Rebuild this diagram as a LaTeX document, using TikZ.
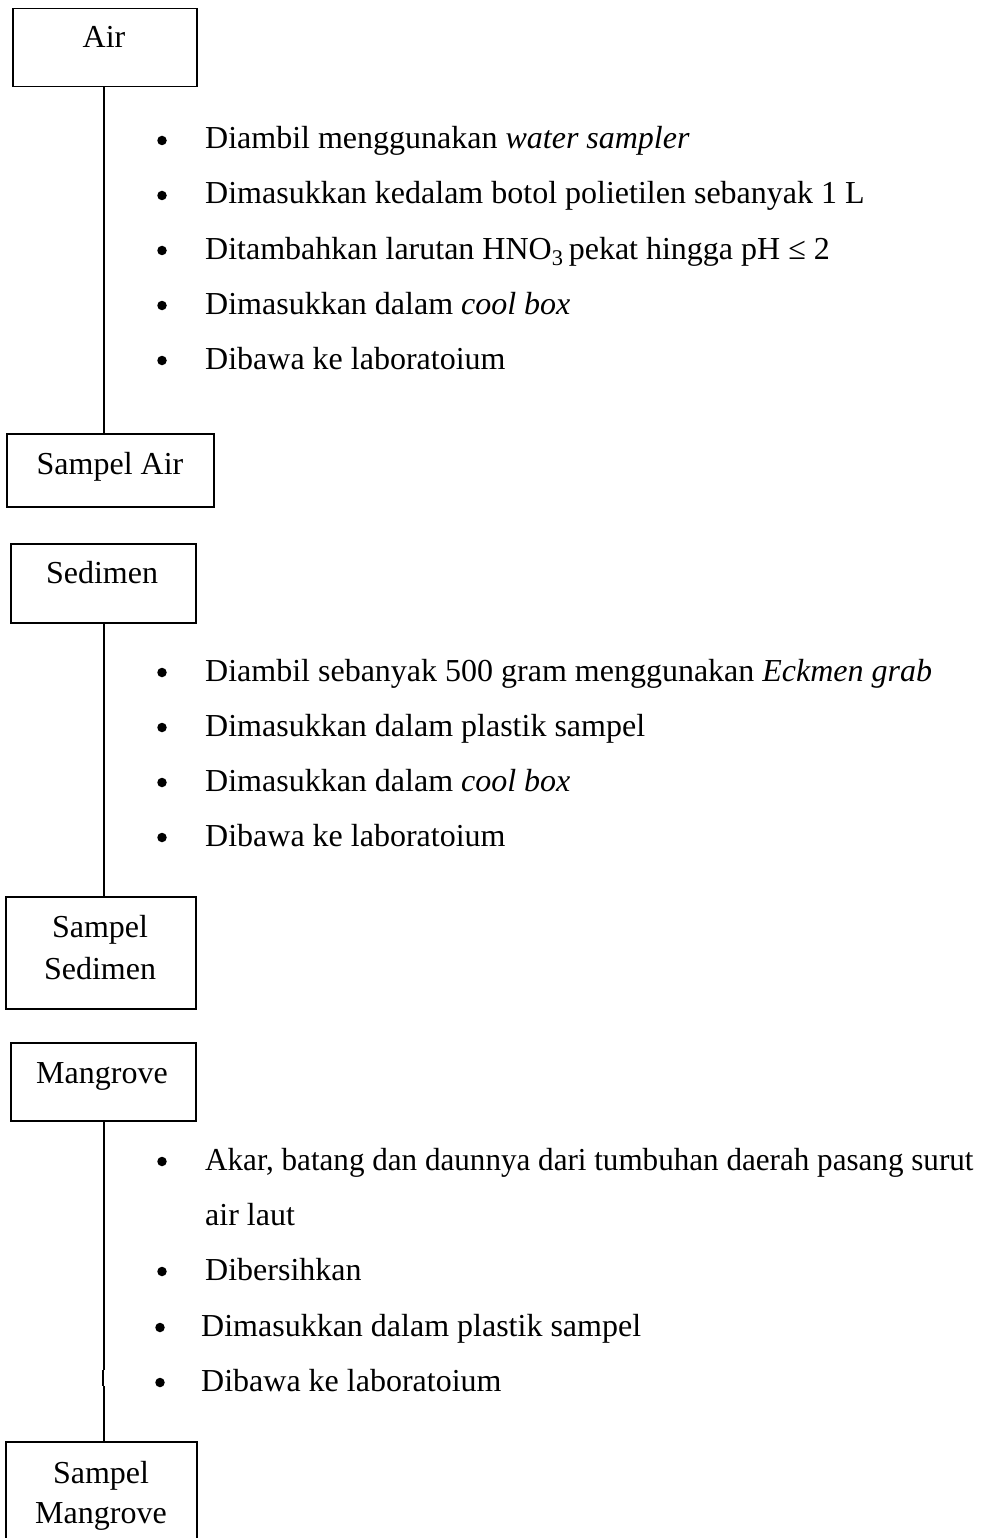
\documentclass[tikz,border=0pt]{standalone}
\usepackage{fontspec}
\setmainfont{Liberation Serif}
\begin{document}
\begin{tikzpicture}[x=1pt,y=-1pt,
  boxline/.style={draw=black,line width=1.5pt},
  conn/.style={draw=black,line width=1.6pt},
  txt/.style={anchor=base west,inner sep=0pt,font=\fontsize{32}{38}\selectfont},
  btxt/.style={anchor=base,inner sep=0pt,font=\fontsize{32}{38}\selectfont},
  bul/.style={circle,fill=black,inner sep=0pt,minimum size=9.5pt,yshift=8.5pt}]
\useasboundingbox (0,0) rectangle (990,1538);
\clip (0,0) rectangle (990,1538);
\fill[white] (0,0) rectangle (990,1538);
% boxes
\node[boxline,anchor=north west,minimum width=184,minimum height=78,inner sep=0pt] (air) at (12,8) {};
\node[boxline,anchor=north west,minimum width=207,minimum height=73,inner sep=0pt] (sair) at (6,433) {};
\node[boxline,anchor=north west,minimum width=185,minimum height=79,inner sep=0pt] (sed) at (10,543) {};
\node[boxline,anchor=north west,minimum width=190,minimum height=112,inner sep=0pt] (ssed) at (5,896) {};
\node[boxline,anchor=north west,minimum width=185,minimum height=78,inner sep=0pt] (man) at (10,1042) {};
\node[boxline,anchor=north west,minimum width=191,minimum height=130,inner sep=0pt] (sman) at (5,1441) {};
% box texts
\node[btxt] (tair) at (104,48) {Air};
\node[btxt] (tsair) at (110,474) {Sampel Air};
\node[btxt] (tsed) at (102,583) {Sedimen};
\node[btxt] (tssed1) at (100,937) {Sampel};
\node[btxt] (tssed2) at (100,979) {Sedimen};
\node[btxt] (tman) at (102,1083) {Mangrove};
\node[btxt] (tsman1) at (101,1483) {Sampel};
\node[btxt] (tsman2) at (101,1523) {Mangrove};
% connectors
\coordinate (c1) at (104,86);
\draw[conn] (air.south -| c1) -- (sair.north -| c1);
\draw[conn] (sed.south -| c1) -- (ssed.north -| c1);
\coordinate (j1) at (104,1370);
\coordinate (j2) at (103,1370);
\coordinate (j3) at (103,1386);
\coordinate (j4) at (104,1386);
\draw[conn] (man.south -| j1) -- (j1);
\draw[conn] (j2) -- (j3);
\draw[conn] (j4) -- (sman.north -| j4);
% section 1
\node[bul] (b11) at (162,149) {};
\node[txt] (t11) at (205,149) {Diambil menggunakan \textit{water sampler}};
\node[bul] (b12) at (162,204) {};
\node[txt] (t12) at (205,204) {Dimasukkan kedalam botol polietilen sebanyak 1 L};
\node[bul] (b13) at (162,259) {};
\node[txt] (t13) at (205,259) {Ditambahkan larutan HNO\textsubscript{3}\,pekat hingga pH ≤ 2};
\node[bul] (b14) at (162,314) {};
\node[txt] (t14) at (205,314) {Dimasukkan dalam \textit{cool box}};
\node[bul] (b15) at (162,369) {};
\node[txt] (t15) at (205,369) {Dibawa ke laboratoium};
% section 2
\node[bul] (b21) at (162,681) {};
\node[txt] (t21) at (205,681) {Diambil sebanyak 500 gram menggunakan \textit{Eckmen grab}};
\node[bul] (b22) at (162,736) {};
\node[txt] (t22) at (205,736) {Dimasukkan dalam plastik sampel};
\node[bul] (b23) at (162,791) {};
\node[txt] (t23) at (205,791) {Dimasukkan dalam \textit{cool box}};
\node[bul] (b24) at (162,846) {};
\node[txt] (t24) at (205,846) {Dibawa ke laboratoium};
% section 3
\node[bul] (b31) at (162,1170) {};
\node[txt] (t31) at (205,1170) {\scalebox{0.972}[1]{Akar, batang dan daunnya dari tumbuhan daerah pasang surut}};
\node[txt] (t31b) at (205,1225) {air laut};
\node[bul] (b32) at (162,1280) {};
\node[txt] (t32) at (205,1280) {Dibersihkan};
\node[bul] (b33) at (160,1336) {};
\node[txt] (t33) at (201,1336) {Dimasukkan dalam plastik sampel};
\node[bul] (b34) at (160,1391) {};
\node[txt] (t34) at (201,1391) {Dibawa ke laboratoium};
\end{tikzpicture}
\end{document}
